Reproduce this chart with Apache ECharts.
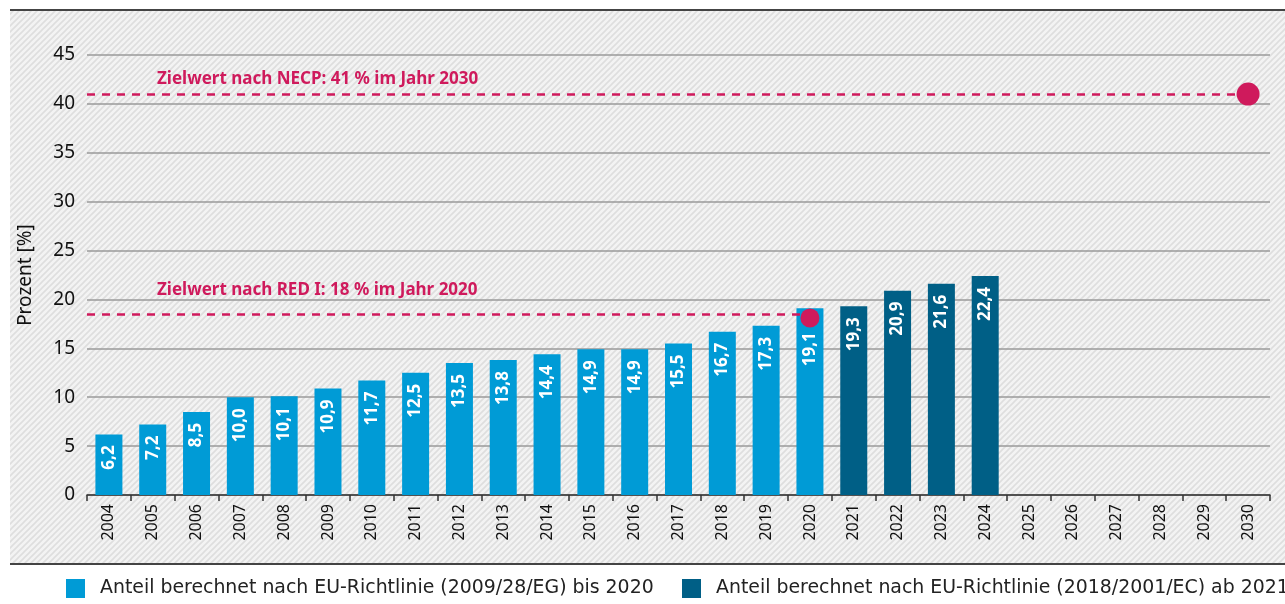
<!DOCTYPE html>
<html style="height: 100%">
<head>
<meta charset="utf-8">
<script src="https://cdn.jsdelivr.net/npm/echarts@6/dist/echarts.min.js"></script>
</head>
<body style="height: 100%; margin: 0; background: #fff">
<div id="container" style="width: 1285px; height: 604px"></div>
<script>
var years = ['2004','2005','2006','2007','2008','2009','2010','2011','2012','2013','2014','2015','2016','2017','2018','2019','2020','2021','2022','2023','2024','2025','2026','2027','2028','2029','2030'];
var oldShare = [6.2, 7.2, 8.5, 10.0, 10.1, 10.9, 11.7, 12.5, 13.5, 13.8, 14.4, 14.9, 14.9, 15.5, 16.7, 17.3, 19.1];
var newShare = [19.3, 20.9, 21.6, 22.4];
var yTicks = [0, 5, 10, 15, 20, 25, 30, 35, 40, 45];
var legendNames = ['Anteil berechnet nach EU-Richtlinie (2009/28/EG) bis 2020', 'Anteil berechnet nach EU-Richtlinie (2018/2001/EC) ab 2021'];
var targetRed = 18.5, targetRedPoint = 18.1, targetNecp = 41;
var redLabel = 'Zielwert nach RED I: 18 % im Jahr 2020';
var necpLabel = 'Zielwert nach NECP: 41 % im Jahr 2030';

var light = '#009bd6', dark = '#005f86', pink = '#cf1a5c';
var font = 'Noto Sans';

var i2020 = years.indexOf('2020'), i2030 = years.indexOf('2030');

// build the two bar series over the full year list
var oldData = years.map(function (y, i) {
    if (i >= oldShare.length) return '-';
    // label of 2020 sits lower, under the target dot
    if (i === i2020) return { value: oldShare[i], label: { distance: 24 } };
    return oldShare[i];
});
var newData = years.map(function (y, i) {
    var k = i - oldShare.length;
    return k >= 0 && k < newShare.length ? newShare[k] : '-';
});

// hatched background pattern
var pc = document.createElement('canvas');
pc.width = 6; pc.height = 6;
var ctx = pc.getContext('2d');
ctx.fillStyle = '#f3f3f3';
ctx.fillRect(0, 0, 6, 6);
ctx.strokeStyle = '#dedede';
ctx.lineWidth = 1.6;
ctx.beginPath();
ctx.moveTo(-1, 7); ctx.lineTo(7, -1);
ctx.moveTo(-4, 4); ctx.lineTo(4, -4);
ctx.moveTo(2, 10); ctx.lineTo(10, 2);
ctx.stroke();

function fmt(p) { return p.value.toFixed(1).replace('.', ','); }

var barLabel = {
    show: true,
    position: 'insideTop',
    rotate: 90,
    align: 'right',
    verticalAlign: 'middle',
    distance: 11,
    color: '#fff',
    fontFamily: font,
    fontWeight: 'bold',
    fontSize: 17,
    formatter: fmt
};

var legendText = { fontFamily: 'DejaVu Sans', fontSize: 18.9, color: '#222', padding: [0, 0, 0, 10] };

var myChart = echarts.init(document.getElementById('container'));
var option = {
    animation: false,
    textStyle: { fontFamily: font },
    graphic: [
        { type: 'rect', z: -10, shape: { x: 10, y: 10, width: 1275, height: 554 }, style: { fill: { image: pc, repeat: 'repeat' } } },
        { type: 'line', z: -5, shape: { x1: 10, y1: 10, x2: 1285, y2: 10 }, style: { stroke: '#444', lineWidth: 2 } },
        { type: 'line', z: -5, shape: { x1: 10, y1: 564, x2: 1285, y2: 564 }, style: { stroke: '#444', lineWidth: 2 } }
    ],
    legend: [{
        top: 579, left: 66, padding: 0, itemWidth: 19, itemHeight: 19, icon: 'rect',
        textStyle: legendText, data: [legendNames[0]]
    }, {
        top: 579, left: 682, padding: 0, itemWidth: 19, itemHeight: 19, icon: 'rect',
        textStyle: legendText, data: [legendNames[1]]
    }],
    grid: { left: 87, right: 15, top: 55, bottom: 109 },
    xAxis: [{
        type: 'category',
        data: years,
        axisLine: { lineStyle: { color: '#333', width: 1.5 } },
        axisTick: { show: true, length: 6, lineStyle: { color: '#333', width: 1.5 } },
        axisLabel: { rotate: 90, fontSize: 16, color: '#111', margin: 9, fontFamily: font }
    }, {
        type: 'value', min: 0, max: years.length, show: false
    }],
    yAxis: {
        type: 'value',
        min: yTicks[0],
        max: yTicks[yTicks.length - 1],
        interval: 5,
        name: 'Prozent [%]',
        nameLocation: 'middle',
        nameGap: 52,
        nameTextStyle: { fontSize: 19, color: '#111', fontFamily: font },
        axisLine: { show: false },
        axisTick: { show: false },
        axisLabel: { fontSize: 19, color: '#111', margin: 12, fontFamily: font },
        splitLine: { lineStyle: { color: '#9a9a9a', width: 1.5 } }
    },
    series: [{
        name: legendNames[0],
        type: 'bar',
        stack: 's',
        barWidth: 27,
        itemStyle: { color: light },
        label: barLabel,
        data: oldData
    }, {
        name: legendNames[1],
        type: 'bar',
        stack: 's',
        barWidth: 27,
        itemStyle: { color: dark },
        label: barLabel,
        data: newData
    }, {
        name: 'targets',
        type: 'scatter',
        xAxisIndex: 1,
        z: 5,
        symbol: 'circle',
        itemStyle: { color: pink, opacity: 1 },
        data: [
            { value: [i2020 + 0.5, targetRedPoint], symbolSize: 19 },
            { value: [i2030 + 0.5, targetNecp], symbolSize: 23 }
        ],
        markLine: {
            silent: true,
            symbol: ['none', 'none'],
            lineStyle: { color: pink, type: [8, 7], width: 2.5 },
            label: {
                show: true,
                position: 'insideStartTop',
                color: pink,
                fontWeight: 'bold',
                fontSize: 17,
                fontFamily: font
            },
            data: [
                [{ coord: [0, targetNecp], label: { formatter: necpLabel, distance: [70, 6] } },
                 { coord: [i2030 + 0.5, targetNecp] }],
                [{ coord: [0, targetRed], label: { formatter: redLabel, distance: [70, 15] } },
                 { coord: [i2020 + 0.5, targetRed] }]
            ]
        }
    }]
};
myChart.setOption(option);
</script>
</body>
</html>
